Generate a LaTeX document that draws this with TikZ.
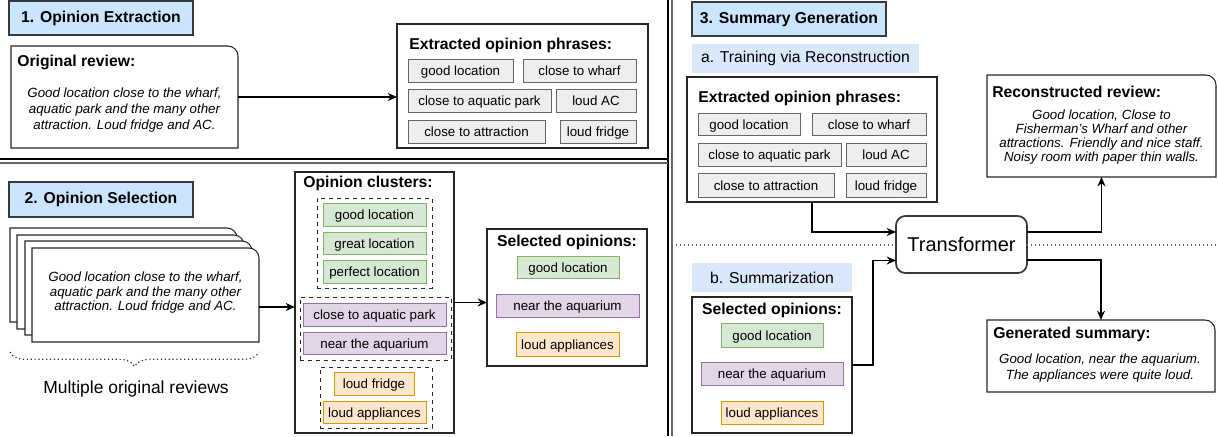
\documentclass[tikz,border=0pt]{standalone}
\usepackage{fontspec}
\setmainfont{Liberation Sans}
\usetikzlibrary{arrows.meta,calc,decorations.pathreplacing}
\definecolor{titlefill}{HTML}{CCE5FF}
\definecolor{titledraw}{HTML}{36393D}
\definecolor{subfill}{HTML}{DAE8FC}
\definecolor{chipfill}{HTML}{EEEEEE}
\definecolor{chipdraw}{HTML}{666666}
\definecolor{gfill}{HTML}{D5E8D4}\definecolor{gdraw}{HTML}{82B366}
\definecolor{pfill}{HTML}{E1D5E7}\definecolor{pdraw}{HTML}{9673A6}
\definecolor{ofill}{HTML}{FFE6CC}\definecolor{odraw}{HTML}{D79B00}
\newcommand\cardpath[1]{\path[draw=black!85, fill=white, line width=0.8pt] (#1.south west) -- (#1.north west) -- ([xshift=-7.5pt]#1.north east) .. controls ([xshift=-3.4pt]#1.north east) and ([yshift=-3.4pt]#1.north east) .. ([yshift=-7.5pt]#1.north east) -- (#1.south east) -- cycle;}
\tikzset{
  R/.style n args={4}{minimum width={(#3-#1)*0.75pt}, minimum height={(#4-#2)*0.75pt}, at={({(#1+#3)/2},{(#2+#4)/2})}},
  base/.style={rectangle, inner sep=0pt, outer sep=0pt},
  titlebox/.style={base, draw=titledraw, fill=titlefill, line width=1.5pt, font=\fontsize{11.8}{14}\selectfont\bfseries},
  subbox/.style={base, fill=subfill, font=\fontsize{11.8}{14}\selectfont},
  panel/.style={base, draw=black!85, line width=0.8pt},
  chip/.style={base, draw=chipdraw, fill=chipfill, line width=0.7pt, font=\fontsize{10}{12}\selectfont, text height=8.3pt, text depth=0.7pt},
  gchip/.style={chip, draw=gdraw, fill=gfill},
  pchip/.style={chip, draw=pdraw, fill=pfill},
  ochip/.style={chip, draw=odraw, fill=ofill},
  grp/.style={base, draw=black!85, dashed, line width=0.7pt},
  head/.style={inner sep=0pt, font=\fontsize{11.8}{14}\selectfont\bfseries},
  rev/.style={inner sep=0pt, align=center, font=\fontsize{10}{#1}\selectfont\itshape},
  arr/.style={-{Stealth[length=7pt,width=6pt]}, line width=0.9pt},
}
\begin{document}
\begin{tikzpicture}[x=0.75pt, y=-0.75pt]
\useasboundingbox (0,0) rectangle (1218,436);
% separators
\draw[line width=0.9pt, black] (668,0) -- (668,436);
\draw[line width=0.9pt, black!60] (672,0) -- (672,436);
\draw[line width=0.9pt, black] (0,159) -- (668,159);
\draw[line width=0.9pt, black!60] (0,163) -- (668,163);

% ===== Section 1 =====
\node[titlebox, R={9}{1}{193}{35}] (t1) {1. Opinion Extraction};
\node[base, R={11}{46}{238}{148}] (orig) {};
\cardpath{orig}
\node[head, anchor=west] (origh) at (17,62) {Original review:};
\node[rev=12.2pt] (origt) at (124.5,110) {Good location close to the wharf,\\aquatic park and the many other\\attraction. Loud fridge and AC.};
\node[panel, R={397}{24}{648}{148}] (ext1) {};
\node[head, anchor=west] (ext1h) at (409,45) {Extracted opinion phrases:};
\node[chip, R={408}{59}{513}{82}] (e1a) {good location};
\node[chip, R={523}{59}{636}{82}] (e1b) {close to wharf};
\node[chip, R={408}{89}{551}{112}] (e1c) {close to aquatic park};
\node[chip, R={556}{89}{636}{112}] (e1d) {loud AC};
\node[chip, R={408}{120}{545}{143}] (e1e) {close to attraction};
\node[chip, R={560}{120}{636}{143}] (e1f) {loud fridge};
\draw[arr] (orig.east) -- (orig.east -| ext1.west);

% ===== Section 2 =====
\node[titlebox, R={9}{182}{193}{217}] (t2) {2. Opinion Selection};
\node[base, R={10}{228}{237}{322}] (c1) {}; \cardpath{c1}
\node[base, R={17}{235}{244}{329}] (c2) {}; \cardpath{c2}
\node[base, R={25}{241}{252}{335}] (c3) {}; \cardpath{c3}
\node[base, R={32}{248}{259}{342}] (c4) {}; \cardpath{c4}
\node[rev=10.9pt] (c4t) at (145.5,293) {Good location close to the wharf,\\aquatic park and the many other\\attraction. Loud fridge and AC.};
\coordinate (br1) at (10,352);
\coordinate (br2) at (259,352);
\draw[dotted, line width=0.9pt, black!80, decorate, decoration={brace, mirror, amplitude=11pt}] (br1) -- (br2);
\node[inner sep=0pt, font=\fontsize{13.1}{15}\selectfont] (multi) at (136,389) {Multiple original reviews};

\node[panel, R={295}{172}{454}{433}] (clus) {};
\node[head] (clush) at (368,183) {Opinion clusters:};
\node[grp, R={317}{198}{432}{288}] (ga) {};
\node[gchip, R={323}{203}{426}{226}] (ga1) {good location};
\node[gchip, R={323}{232}{426}{254}] (ga2) {great location};
\node[gchip, R={323}{260}{426}{283}] (ga3) {perfect location};
\node[grp, R={300}{297}{451}{360}] (gb) {};
\node[pchip, R={303}{303}{446}{326}] (gb1) {close to aquatic park};
\node[pchip, R={303}{332}{446}{354}] (gb2) {near the aquarium};
\node[grp, R={320}{367}{432}{428}] (gc) {};
\node[ochip, R={334}{372}{414}{395}] (gc1) {loud fridge};
\node[ochip, R={323}{401}{426}{423}] (gc2) {loud appliances};
\draw[arr] ([yshift=-9pt]c4.east) -- ([yshift=-9pt]c4.east -| clus.west);

\node[panel, R={487}{229}{647}{366}] (sel2) {};
\node[head] (sel2h) at (567,242) {Selected opinions:};
\node[gchip, R={517}{256}{619}{278}] (s2a) {good location};
\node[pchip, R={496}{294}{639}{317}] (s2b) {near the aquarium};
\node[ochip, R={516}{332}{619}{356}] (s2c) {loud appliances};
\draw[arr] (clus.east) -- (clus.east -| sel2.west);

% ===== Section 3 =====
\node[titlebox, R={692}{2}{886}{36}] (t3) {3. Summary Generation};
\node[subbox, R={692}{44}{919}{73}] (suba) {a. Training via Reconstruction};
\node[panel, R={687}{77}{937}{202}] (ext3) {};
\node[head, anchor=west] (ext3h) at (698,98) {Extracted opinion phrases:};
\node[chip, R={698}{113}{800}{135}] (e3a) {good location};
\node[chip, R={812}{113}{926}{135}] (e3b) {close to wharf};
\node[chip, R={698}{143}{841}{166}] (e3c) {close to aquatic park};
\node[chip, R={846}{143}{926}{166}] (e3d) {loud AC};
\node[chip, R={698}{173}{834}{197}] (e3e) {close to attraction};
\node[chip, R={846}{173}{926}{197}] (e3f) {loud fridge};

\node[base, R={896}{216}{1027}{273}, draw=titledraw, fill=white, line width=1.3pt, rounded corners=7pt, font=\fontsize{15}{18}\selectfont] (trans) {Transformer};
\draw[dotted, line width=1pt, black!60] (672,245) -- (trans.west |- 0,245);
\draw[dotted, line width=1pt, black!60] (trans.east |- 0,245) -- (1218,245);

\node[subbox, R={692}{263}{852}{292}] (subb) {b. Summarization};
\node[panel, R={692}{297}{852}{433}] (sel3) {};
\node[head] (sel3h) at (772,310) {Selected opinions:};
\node[gchip, R={721}{323}{823}{347}] (s3a) {good location};
\node[pchip, R={701}{362}{843}{385}] (s3b) {near the aquarium};
\node[ochip, R={721}{401}{823}{424}] (s3c) {loud appliances};

\node[base, R={987}{75}{1216}{177}] (rec) {};
\cardpath{rec}
\node[head, anchor=west] (rech) at (992,92) {Reconstructed review:};
\node[rev=10.3pt] (rect) at (1101.5,137) {Good location, Close to\\Fisherman's Wharf and other\\attractions. Friendly and nice staff.\\Noisy room with paper thin walls.};

\node[base, R={987}{320}{1215}{392}] (gen) {};
\cardpath{gen}
\node[head, anchor=west] (genh) at (993,334) {Generated summary:};
\node[rev=11.8pt] (gent) at (1100,368) {Good location, near the aquarium.\\The appliances were quite loud.};

\draw[arr] (ext3.south) |- ([yshift=9.4pt]trans.west);
\coordinate (bend) at (873,365);
\draw[arr] (sel3.east) -- (bend) |- ([yshift=-12pt]trans.west);
\draw[arr] ([yshift=9.4pt]trans.east) -| (rec.south);
\draw[arr] ([yshift=-11.6pt]trans.east) -| (gen.north);
\end{tikzpicture}
\end{document}
